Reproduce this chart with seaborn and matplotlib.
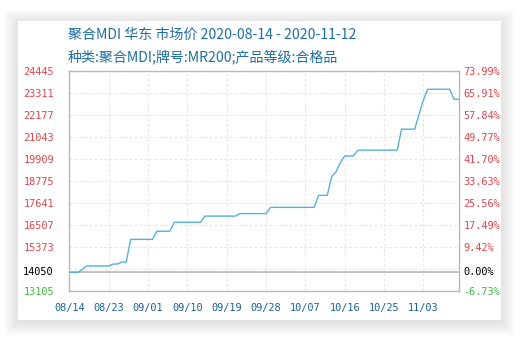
import matplotlib
matplotlib.use("Agg")
import matplotlib.pyplot as plt
from matplotlib.patches import Rectangle
import seaborn as sns
import pandas as pd

# ---- data ----
dates = ["2020-08-14", "2020-08-16", "2020-08-18", "2020-08-23", "2020-08-24",
         "2020-08-25", "2020-08-26", "2020-08-27", "2020-08-28", "2020-09-02",
         "2020-09-03", "2020-09-06", "2020-09-07", "2020-09-13", "2020-09-14",
         "2020-09-21", "2020-09-22", "2020-09-28", "2020-09-29", "2020-10-09",
         "2020-10-10", "2020-10-12", "2020-10-13", "2020-10-14", "2020-10-15",
         "2020-10-16", "2020-10-18", "2020-10-19", "2020-10-28", "2020-10-29",
         "2020-11-01", "2020-11-02", "2020-11-03", "2020-11-04", "2020-11-09",
         "2020-11-10", "2020-11-11", "2020-11-12"]
prices = [14050, 14050, 14380, 14380, 14480,
          14480, 14580, 14580, 15750, 15750,
          16170, 16170, 16630, 16630, 16950,
          16950, 17080, 17080, 17400, 17400,
          18020, 18020, 18980, 19240, 19700,
          20050, 20050, 20350, 20350, 21430,
          21430, 22200, 22940, 23490, 23490,
          22970, 22970, 22970]
base_price = 14050
y_ticks = [24445, 23311, 22177, 21043, 19909, 18775, 17641, 16507, 15373, 14239, 13105]
y_labels = ["24445", "23311", "22177", "21043", "19909", "18775", "17641", "16507", "15373", "", "13105"]
pct_labels = ["73.99%", "65.91%", "57.84%", "49.77%", "41.70%", "33.63%", "25.56%", "17.49%", "9.42%", "", "-6.73%"]
x_ticks = ["2020-08-14", "2020-08-23", "2020-09-01", "2020-09-10", "2020-09-19",
           "2020-09-28", "2020-10-07", "2020-10-16", "2020-10-25", "2020-11-03"]
x_labels = ["08/14", "08/23", "09/01", "09/10", "09/19", "09/28", "10/07", "10/16", "10/25", "11/03"]
title = "聚合MDI 华东 市场价 2020-08-14 - 2020-11-12"
subtitle = "种类:聚合MDI;牌号:MR200;产品等级:合格品"

df = pd.DataFrame({"date": pd.to_datetime(dates), "price": prices})

sns.set_theme(style="white")
plt.rcParams["font.family"] = ["Noto Sans CJK SC", "DejaVu Sans"]

W, H = 531, 345
fig = plt.figure(figsize=(W / 100, H / 100), dpi=100)
fig.patch.set_facecolor("white")

# card with soft shadow
cx0, cy0, cx1, cy1 = 18, 21, 501, 320
for g in range(1, 15):
    fig.patches.append(Rectangle(((cx0 - g) / W, 1 - (cy1 + g + 2) / H),
                                 (cx1 - cx0 + 2 * g) / W, (cy1 - cy0 + 2 * g) / H,
                                 transform=fig.transFigure, facecolor="black",
                                 alpha=0.009, edgecolor="none", zorder=-10))
fig.patches.append(Rectangle((cx0 / W, 1 - cy1 / H), (cx1 - cx0) / W, (cy1 - cy0) / H,
                             transform=fig.transFigure, facecolor="white",
                             edgecolor="none", zorder=-5))

left, right, top, bottom = 69.4, 459.3, 70.7, 290.7
ax = fig.add_axes([left / W, 1 - bottom / H, (right - left) / W, (bottom - top) / H])
ax.set_facecolor("none")

sns.lineplot(data=df, x="date", y="price", ax=ax, color="#56b1df", linewidth=1.0, zorder=3)

xmin = pd.Timestamp("2020-08-14")
xmax = pd.Timestamp("2020-11-12") - pd.Timedelta(hours=19)
ax.set_xlim(xmin, xmax)
ax.set_ylim(13105, 24445)

ax.set_yticks(y_ticks)
ax.set_yticklabels(y_labels)
ax.set_xticks(pd.to_datetime(x_ticks))
ax.set_xticklabels(x_labels)
ax.set_xlabel("")
ax.set_ylabel("")

mono = "DejaVu Sans Mono"
red, green = "#e0464b", "#45b845"
for lab in ax.get_yticklabels():
    lab.set_fontfamily(mono)
    lab.set_fontsize(7.4)
    lab.set_color(green if lab.get_text() == "13105" else red)
for lab in ax.get_xticklabels():
    lab.set_fontfamily(mono)
    lab.set_fontsize(7.4)
    lab.set_color("#1a6298")
ax.tick_params(axis="y", length=0, pad=11)
ax.tick_params(axis="x", length=0, pad=9)

ax.grid(True, color="#e6e6e6", linestyle=(0, (2.5, 2)), linewidth=0.8)
ax.axhline(base_price, color="#b4b4b4", linewidth=1.1, zorder=2)
ax.text(-0.04, base_price, str(base_price), transform=ax.get_yaxis_transform(),
        ha="right", va="center", fontsize=7.4, family=mono, color="black")

for s in ax.spines.values():
    s.set_color("#b8b8b8")
    s.set_linewidth(1.0)

ax2 = ax.twinx()
ax2.set_ylim(ax.get_ylim())
ax2.set_yticks(y_ticks)
ax2.set_yticklabels(pct_labels)
for lab in ax2.get_yticklabels():
    lab.set_fontfamily(mono)
    lab.set_fontsize(7.4)
    lab.set_color(green if lab.get_text().startswith("-") else red)
ax2.tick_params(axis="y", length=0, pad=3)
ax2.text(1.01, base_price, "0.00%", transform=ax2.get_yaxis_transform(),
         ha="left", va="center", fontsize=7.4, family=mono, color="black")
for s in ax2.spines.values():
    s.set_visible(False)
ax2.grid(False)

fig.text(68 / W, 1 - 35 / H, title, fontsize=10.1, color="#1f6ea6", va="center", ha="left")
fig.text(68 / W, 1 - 57 / H, subtitle, fontsize=10.1, color="#1f6ea6", va="center", ha="left")

fig.savefig("out.png", dpi=100)
